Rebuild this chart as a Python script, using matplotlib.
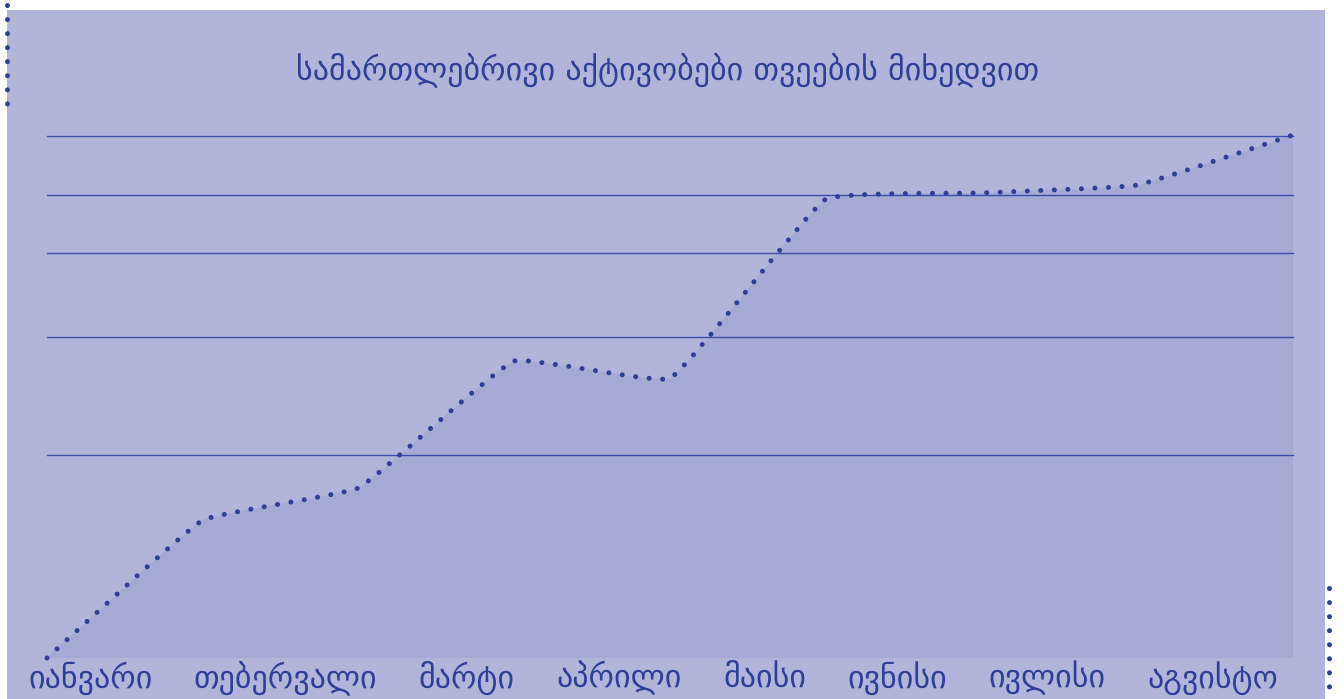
import numpy as np
import matplotlib
matplotlib.use("Agg")
import matplotlib.pyplot as plt
from matplotlib.path import Path
from matplotlib.patches import PathPatch, Rectangle
from matplotlib.lines import Line2D

# ---------------- data ----------------
title = "სამართლებრივი აქტივობები თვეების მიხედვით"
months = ["იანვარი", "თებერვალი", "მარტი", "აპრილი", "მაისი", "ივნისი", "ივლისი", "აგვისტო"]
values = [0, 26.4, 32.6, 56.9, 53.6, 87.9, 89.1, 90.6, 100.2]
grid_values = [38.9, 61.5, 77.6, 88.7, 100]

# ---------------- style ----------------
W, H, DPI = 1344, 699, 100
PANEL = "#b1b5da"
INK = "#2f3e97"
GRID = "#3e4ea8"
FILL = "#303f9f"
TENSION = 0.1

fig = plt.figure(figsize=(W / DPI, H / DPI), dpi=DPI)
fig.patch.set_facecolor("white")

def fx(px):
    return px / W

def fy(py):
    return 1 - py / H

# panel background
fig.patches.append(Rectangle((fx(7), fy(699)), fx(1325) - fx(7), fy(10) - fy(699),
                             transform=fig.transFigure, facecolor=PANEL, edgecolor="none", zorder=-5))

# decorative dotted edges
fig.add_artist(Line2D([fx(7), fx(7)], [fy(4.7), fy(106)], color=INK, lw=3.6,
                      linestyle=(0, (0.01, 2.8)), dash_capstyle="round", zorder=5))
fig.add_artist(Line2D([fx(1329), fx(1329)], [fy(588), fy(705)], color=INK, lw=3.6,
                      linestyle=(0, (0.01, 2.8)), dash_capstyle="round", zorder=5))

# axes
x0, x1, yb, yt = 47, 1293, 658, 136
ax = fig.add_axes([fx(x0), fy(yb), fx(x1) - fx(x0), fy(yt) - fy(yb)])
ax.set_zorder(1)
ax.set_facecolor("none")
for s in ax.spines.values():
    s.set_visible(False)
ax.set_xticks([])
ax.set_yticks([])
n = len(values)
ax.set_xlim(0, n - 1)
ax.set_ylim(0, 100)

for g in grid_values:
    ax.axhline(g, color=GRID, lw=1.0, zorder=1, clip_on=False)

# Chart.js-style spline (tension) computed in display space
pts = ax.transData.transform(np.column_stack([np.arange(n, dtype=float), values]))
cps_prev = np.zeros_like(pts)
cps_next = np.zeros_like(pts)
for i in range(n):
    p1 = pts[i]
    p0 = pts[i - 1] if i > 0 else p1
    p2 = pts[i + 1] if i < n - 1 else p1
    d01 = np.hypot(*(p1 - p0))
    d12 = np.hypot(*(p2 - p1))
    tot = d01 + d12
    s01 = d01 / tot if tot else 0
    s12 = d12 / tot if tot else 0
    cps_prev[i] = p1 - TENSION * s01 * (p2 - p0)
    cps_next[i] = p1 + TENSION * s12 * (p2 - p0)

inv = ax.transData.inverted()
pts_d = inv.transform(pts)
prev_d = inv.transform(cps_prev)
next_d = inv.transform(cps_next)

verts = [tuple(pts_d[0])]
codes = [Path.MOVETO]
for i in range(n - 1):
    verts += [tuple(next_d[i]), tuple(prev_d[i + 1]), tuple(pts_d[i + 1])]
    codes += [Path.CURVE4] * 3

line_path = Path(verts, codes)
fill_path = Path(verts + [(n - 1, 0), (0, 0), verts[0]],
                 codes + [Path.LINETO, Path.LINETO, Path.CLOSEPOLY])

ax.add_patch(PathPatch(fill_path, facecolor=FILL, alpha=0.09, edgecolor="none", zorder=2))
ax.add_patch(PathPatch(line_path, facecolor="none", edgecolor=INK, lw=3.6,
                       linestyle=(0, (0.01, 2.7)), capstyle="round", zorder=3, clip_on=False))

# title
fig.text(fx(668), fy(70), title, ha="center", va="center", color=INK,
         fontsize=23, family="DejaVu Sans")

# month labels laid out in a row with equal gaps
renderer = fig.canvas.get_renderer()
fs = 23
texts = [fig.text(0, fy(678), m, ha="left", va="center", color=INK, fontsize=fs,
                  family="DejaVu Sans") for m in months]
widths = [tx.get_window_extent(renderer).width for tx in texts]
start, end = 28, 1278
gap = (end - start - sum(widths)) / (len(months) - 1)
cur = start
for tx, w in zip(texts, widths):
    tx.set_x(fx(cur))
    cur += w + gap

fig.savefig("out.png", dpi=DPI, facecolor="white")
